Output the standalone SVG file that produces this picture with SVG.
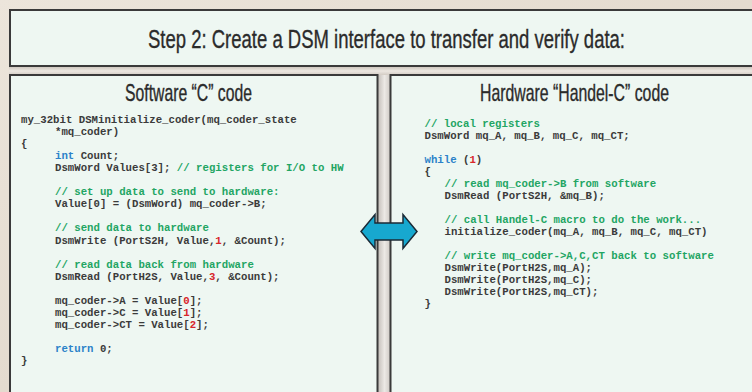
<svg xmlns="http://www.w3.org/2000/svg" width="752" height="392" viewBox="0 0 752 392">
<defs>
<linearGradient id="bg" x1="0" y1="0" x2="1" y2="1">
<stop offset="0" stop-color="#ece5db"/>
<stop offset="0.5" stop-color="#e4dbcf"/>
<stop offset="1" stop-color="#ebe4da"/>
</linearGradient>
<linearGradient id="vstripe" x1="0" y1="0" x2="1" y2="0">
<stop offset="0" stop-color="#c4bfba"/>
<stop offset="0.5" stop-color="#ece9e5"/>
<stop offset="1" stop-color="#cbc6c1"/>
</linearGradient>
<linearGradient id="hstripe" x1="0" y1="0" x2="0" y2="1">
<stop offset="0" stop-color="#cfc8c0"/>
<stop offset="0.5" stop-color="#ece7e1"/>
<stop offset="1" stop-color="#d3ccc4"/>
</linearGradient>
<style>
.panel{fill:#eef7f2;stroke:#3a3a3a;stroke-width:2}
.head{font-family:"Liberation Sans",Arial,sans-serif;fill:#2b2b2b;stroke:#2b2b2b;stroke-width:0.35}
.code{font-family:"Liberation Mono","Courier New",monospace;font-weight:bold;font-size:10.7px;fill:#3b3b3b;white-space:pre}
.cm{fill:#22a563}
.kw{fill:#2b82c9}
.num{fill:#d8262b}
</style>
</defs>
<rect x="0" y="0" width="752" height="392" fill="url(#bg)"/>
<rect x="378" y="67" width="13" height="325" fill="url(#vstripe)"/>
<rect x="9" y="67" width="743" height="8" fill="url(#hstripe)"/>

<g id="title">
<rect class="panel" x="10" y="10" width="760" height="56"/>
<text class="head" transform="scale(0.7,1)" x="211.43" y="48" font-size="26" textLength="681.43" lengthAdjust="spacingAndGlyphs">Step 2: Create a DSM interface to transfer and verify data:</text>
</g>

<g id="software">
<rect class="panel" x="10" y="75" width="367.5" height="330"/>
<text class="head" transform="scale(0.75,1)" x="166.67" y="101.5" font-size="23" textLength="169.33" lengthAdjust="spacingAndGlyphs">Software “C” code</text>
<text class="code" x="21" y="123">my_32bit DSMinitialize_coder(mq_coder_state</text>
<text class="code" x="55" y="135.05">*mq_coder)</text>
<text class="code" x="21" y="147.1">{</text>
<text class="code" x="55" y="159.15"><tspan class="kw">int</tspan> Count;</text>
<text class="code" x="55" y="171.2">DsmWord Values[3]; <tspan class="cm">// registers for I/O to HW</tspan></text>
<text class="code cm" x="55" y="195.3">// set up data to send to hardware:</text>
<text class="code" x="55" y="207.35">Value[0] = (DsmWord) mq_coder-&gt;B;</text>
<text class="code cm" x="55" y="231.45">// send data to hardware</text>
<text class="code" x="55" y="243.5">DsmWrite (PortS2H, Value,<tspan class="num">1</tspan>, &amp;Count);</text>
<text class="code cm" x="55" y="267.6">// read data back from hardware</text>
<text class="code" x="55" y="279.65">DsmRead (PortH2S, Value,<tspan class="num">3</tspan>, &amp;Count);</text>
<text class="code" x="55" y="303.75">mq_coder-&gt;A = Value[<tspan class="num">0</tspan>];</text>
<text class="code" x="55" y="315.8">mq_coder-&gt;C = Value[<tspan class="num">1</tspan>];</text>
<text class="code" x="55" y="327.85">mq_coder-&gt;CT = Value[<tspan class="num">2</tspan>];</text>
<text class="code" x="55" y="351.95"><tspan class="kw">return</tspan> 0;</text>
<text class="code" x="21" y="364">}</text>
</g>

<g id="hardware">
<rect class="panel" x="390.5" y="75" width="380" height="330"/>
<text class="head" transform="scale(0.75,1)" x="640" y="101.5" font-size="23" textLength="252" lengthAdjust="spacingAndGlyphs">Hardware “Handel-C” code</text>
<text class="code cm" x="424.5" y="126.5">// local registers</text>
<text class="code" x="424.5" y="138.5">DsmWord mq_A, mq_B, mq_C, mq_CT;</text>
<text class="code" x="424.5" y="162.5"><tspan class="kw">while</tspan> (<tspan class="num">1</tspan>)</text>
<text class="code" x="424.5" y="174.5">{</text>
<text class="code cm" x="444.5" y="186.5">// read mq_coder-&gt;B from software</text>
<text class="code" x="444.5" y="198.5">DsmRead (PortS2H, &amp;mq_B);</text>
<text class="code cm" x="444.5" y="222.5">// call Handel-C macro to do the work...</text>
<text class="code" x="444.5" y="234.5">initialize_coder(mq_A, mq_B, mq_C, mq_CT)</text>
<text class="code cm" x="444.5" y="258.5">// write mq_coder-&gt;A,C,CT back to software</text>
<text class="code" x="444.5" y="270.5">DsmWrite(PortH2S,mq_A);</text>
<text class="code" x="444.5" y="282.5">DsmWrite(PortH2S,mq_C);</text>
<text class="code" x="444.5" y="294.5">DsmWrite(PortH2S,mq_CT);</text>
<text class="code" x="424.5" y="306.5">}</text>
</g>

<g id="connectors">
<polygon points="361,231.5 375,214.5 375,223 403,223 403,214.5 417,231.5 403,248.5 403,240 375,240 375,248.5" fill="#17a8cf" stroke="#1b2a36" stroke-width="1.5" stroke-linejoin="miter"/>
</g>
</svg>
